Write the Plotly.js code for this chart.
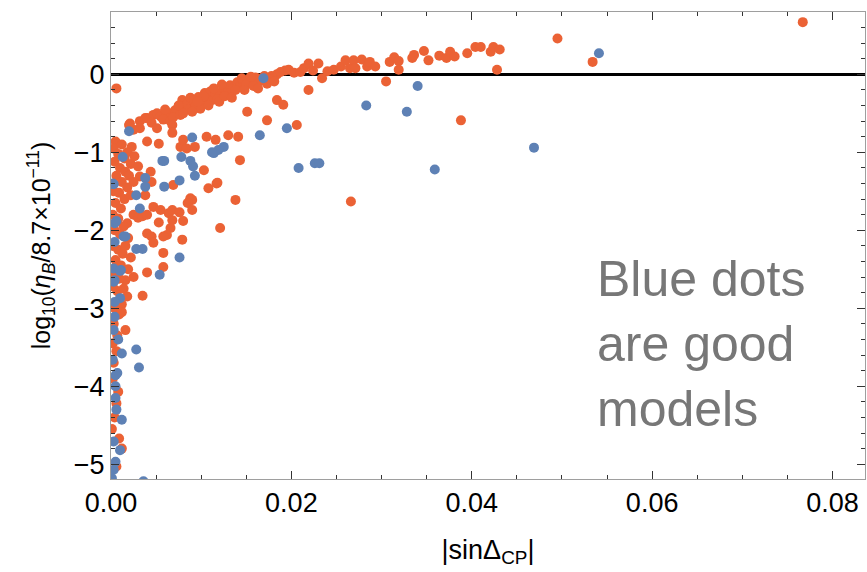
<!DOCTYPE html>
<html>
<head>
<meta charset="utf-8">
<script src="https://cdn.plot.ly/plotly-3.0.1.min.js"></script>
<style>
  html, body { margin: 0; padding: 0; background: #ffffff; }
  #chart { width: 867px; height: 572px; }
</style>
</head>
<body>
<div id="chart"></div>
<script>
// Scanned models: |sin Delta_CP| against log10(eta_B / 8.7e-11)

// All models (orange)
const otherSin = [
  0.0006, 0.0021, 0.0025, 0.0032, 0.0038, 0.0040, 0.0047, 0.0051, 0.0055, 0.0062,
  0.0064, 0.0071, 0.0073, 0.0079, 0.0082, 0.0085, 0.0088, 0.0092, 0.0097, 0.0101,
  0.0104, 0.0107, 0.0110, 0.0112, 0.0116, 0.0121, 0.0125, 0.0128, 0.0132, 0.0136,
  0.0140, 0.0143, 0.0147, 0.0152, 0.0156, 0.0160, 0.0162, 0.0166, 0.0173, 0.0178,
  0.0184, 0.0188, 0.0193, 0.0197, 0.0203, 0.0210, 0.0214, 0.0219, 0.0224, 0.0230,
  0.0234, 0.0240, 0.0247, 0.0255, 0.0260, 0.0265, 0.0269, 0.0271, 0.0278, 0.0284,
  0.0287, 0.0293, 0.0305, 0.0309, 0.0314, 0.0319, 0.0319, 0.0334, 0.0336, 0.0347,
  0.0352, 0.0364, 0.0372, 0.0376, 0.0381, 0.0395, 0.0404, 0.0410, 0.0421, 0.0424,
  0.0431, 0.0428, 0.0495, 0.0534, 0.0767, 0.0388, 0.0266,
  0.0045, 0.0058, 0.0066, 0.0069, 0.0075, 0.0077, 0.0086, 0.0094, 0.0099, 0.0103,
  0.0114, 0.0118, 0.0123, 0.0130, 0.0138, 0.0145, 0.0150, 0.0155, 0.0158, 0.0170,
  0.0176, 0.0181,
  0.0060, 0.0080, 0.0090, 0.0096, 0.0108, 0.0120, 0.0126, 0.0134, 0.0148, 0.0163,
  0.0032, 0.0051, 0.0068, 0.0068, 0.0077, 0.0084, 0.0093, 0.0106, 0.0116, 0.0130,
  0.0141, 0.0151, 0.0173, 0.0184, 0.0191, 0.0206, 0.0219, 0.0143, 0.0117, 0.0108,
  0.0103, 0.0118, 0.0069, 0.0044, 0.0032, 0.0023, 0.0020, 0.0005, 0.0088, 0.0138,
  0.0040, 0.0053, 0.0080, 0.0045, 0.0038, 0.0047, 0.0055, 0.0064, 0.0068, 0.0088,
  0.0090, 0.0085, 0.0090, 0.0076, 0.0080, 0.0068, 0.0053, 0.0066, 0.0062, 0.0058,
  0.0040, 0.0045, 0.0047, 0.0079, 0.0058, 0.0058, 0.0040, 0.0025, 0.0035, 0.0016,
  0.0016, 0.0121, 0.0025, 0.0030, 0.0035, 0.0040, 0.0018,
  0.0003, 0.0008, 0.0012, 0.0015, 0.0018, 0.0022, 0.0026, 0.0030, 0.0004, 0.0010,
  0.0016, 0.0020, 0.0025, 0.0006, 0.0012, 0.0018, 0.0003, 0.0009, 0.0015, 0.0022,
  0.0005, 0.0011, 0.0002, 0.0008, 0.0014, 0.0004, 0.0010, 0.0019, 0.0002, 0.0008,
  0.0013, 0.0005, 0.0011, 0.0003, 0.0009, 0.0002, 0.0007, 0.0012, 0.0004, 0.0009,
  0.0003, 0.0007, 0.0002, 0.0006, 0.0003, 0.0008, 0.0006, 0.0004, 0.0009, 0.0012,
  0.0006, 0.0002, 0.0001,
  0.0016, 0.0022, 0.0019, 0.0014, 0.0018, 0.0012
];
const otherEta = [
  -0.18, -0.63, -0.71, -0.60, -0.56, -0.56, -0.52, -0.50, -0.54, -0.52,
  -0.50, -0.46, -0.46, -0.33, -0.41, -0.38, -0.30, -0.33, -0.29, -0.37,
  -0.24, -0.30, -0.22, -0.33, -0.26, -0.24, -0.18, -0.22, -0.14, -0.17,
  -0.10, -0.16, -0.09, -0.07, -0.12, -0.04, -0.05, -0.08, -0.12, -0.02,
   0.00,  0.03,  0.05,  0.06,  0.02,  0.03,  0.08,  0.14,  0.05,  0.14,
  -0.05,  0.04,  0.06,  0.10,  0.18,  0.08,  0.18,  0.08,  0.19,  0.10,
   0.16,  0.10, -0.09,  0.16,  0.22,  0.17,  0.06,  0.21,  0.25,  0.30,
   0.18,  0.24,  0.21,  0.29,  0.23,  0.27,  0.35,  0.35,  0.29,  0.35,
   0.32,  0.06,  0.46,  0.16,  0.67, -0.59, -1.63,
  -0.62, -0.58, -0.60, -0.55, -0.40, -0.52, -0.45, -0.40, -0.44, -0.28,
  -0.18, -0.32, -0.13, -0.25, -0.20, -0.05, -0.13, -0.03, -0.15, -0.02,
  -0.06, -0.09,
  -0.45, -0.50, -0.48, -0.35, -0.40, -0.35, -0.28, -0.30, -0.20, -0.18,
  -0.69, -0.69, -0.65, -0.75, -0.93, -0.95, -0.93, -0.80, -0.84, -0.78,
  -0.80, -0.48, -0.59, -0.33, -0.39, -0.65, -0.20, -1.10, -1.40, -1.46,
  -1.23, -1.39, -1.42, -1.25, -1.31, -0.93, -0.65, -0.86, -1.59, -1.61,
  -0.86, -0.89, -0.84, -1.38, -1.55, -1.70, -1.74, -1.78, -1.74, -1.61,
  -1.61, -1.65, -1.74, -1.77, -1.88, -1.87, -1.90, -1.97, -2.06, -2.08,
  -2.04, -2.08, -2.16, -2.12, -2.29, -2.47, -2.54, -2.60, -2.84, -2.64,
  -3.28, -1.97, -1.80, -1.84, -1.82, -1.80, -1.91,
  -0.95, -1.02, -0.90, -1.08, -1.00, -1.15, -1.05, -1.18, -1.12, -1.20,
  -1.25, -1.30, -1.38, -1.30, -1.38, -1.45, -1.50, -1.52, -1.60, -1.55,
  -1.65, -1.72, -1.80, -1.85, -1.95, -2.00, -2.05, -2.10, -2.20, -2.25,
  -2.30, -2.38, -2.45, -2.55, -2.62, -2.72, -2.78, -2.95, -3.00, -3.08,
  -3.20, -3.35, -3.45, -3.55, -3.70, -4.07, -4.22, -4.40, -4.67, -4.80,
  -5.03, -3.90, -4.55,
  -2.20, -2.35, -2.50, -2.75, -2.85, -3.05
];

// Good models (blue)
const goodSin = [
  0.0169, 0.0020, 0.0090, 0.0195, 0.0165, 0.0125, 0.0119, 0.0114, 0.0013, 0.0057,
  0.0059, 0.0078, 0.0088, 0.0091, 0.0093, 0.0208, 0.0226, 0.0231, 0.0038, 0.0038,
  0.0059, 0.0076, 0.0002, 0.0028, 0.0032, 0.0004, 0.0006, 0.0014, 0.0016, 0.0004,
  0.0028, 0.0035, 0.0076, 0.0054, 0.0003, 0.0011, 0.0004, 0.0010, 0.0004, 0.0004,
  0.0003, 0.0008, 0.0012, 0.0028, 0.0031, 0.0007, 0.0002, 0.0005, 0.0005, 0.0005,
  0.0006, 0.0012, 0.0003, 0.0010, 0.0005, 0.0003, 0.0001, 0.0036, 0.0541, 0.0340,
  0.0283, 0.0328, 0.0469, 0.0359, 0.0003, 0.0010, 0.0112, 0.0003
];
const goodEta = [
  -0.05, -0.73, -0.81, -0.69, -0.78, -0.93, -0.97, -1.01, -1.06, -1.11,
  -1.11, -1.06, -1.11, -1.18, -1.30, -1.20, -1.14, -1.14, -1.33, -1.44,
  -1.44, -1.36, -1.40, -1.55, -1.72, -1.91, -1.88, -2.08, -2.08, -2.15,
  -2.24, -2.24, -2.35, -2.57, -2.49, -2.51, -2.64, -2.87, -2.92, -3.11,
  -3.28, -3.40, -3.58, -3.53, -3.76, -3.83, -3.66, -3.86, -4.00, -4.15,
  -4.30, -4.43, -4.71, -4.82, -4.97, -5.07, -5.18, -5.22,  0.27, -0.15,
  -0.40, -0.48, -0.94, -1.22, -2.66, -2.52, -1.00, -1.41
];

const ORANGE = '#EB6235';
const BLUE = '#5E81B5';
const FONT = 'Liberation Sans, Arial, Helvetica, sans-serif';

const traces = [
  {
    x: otherSin, y: otherEta, type: 'scatter', mode: 'markers',
    marker: { color: ORANGE, size: 10 }, hoverinfo: 'x+y', showlegend: false
  },
  {
    x: goodSin, y: goodEta, type: 'scatter', mode: 'markers',
    marker: { color: BLUE, size: 10 }, hoverinfo: 'x+y', showlegend: false
  }
];

const frame = {
  showline: true, linecolor: '#9e9e9e', linewidth: 1, mirror: 'ticks',
  ticks: 'inside', ticklen: 8, tickwidth: 1, tickcolor: '#333333',
  showgrid: false, tickfont: { family: FONT, size: 27, color: '#000000' }
};

const layout = {
  width: 867, height: 572,
  margin: { l: 111, r: 2, t: 12, b: 93 },
  paper_bgcolor: '#ffffff', plot_bgcolor: '#ffffff',
  font: { family: FONT, color: '#000000' },
  xaxis: Object.assign({}, frame, {
    range: [0, 0.0836], tick0: 0, dtick: 0.02, tickformat: '.2f',
    zeroline: false,
    minor: { dtick: 0.005, ticks: 'inside', ticklen: 4, tickcolor: '#333333', showgrid: false },
    title: { text: '|sinΔ<sub>CP</sub>|', font: { family: FONT, size: 27 }, standoff: 22 }
  }),
  yaxis: Object.assign({}, frame, {
    range: [-5.19, 0.8], tick0: 0, dtick: 1,
    zeroline: true, zerolinecolor: '#000000', zerolinewidth: 3,
    minor: { dtick: 0.2, ticks: 'inside', ticklen: 4, tickcolor: '#333333', showgrid: false },
    title: {
      text: 'log<sub>10</sub>(<i>η</i><sub><i>B</i></sub>/8.7×10<sup>−11</sup>)',
      font: { family: FONT, size: 25 }, standoff: 16
    }
  }),
  annotations: [{
    xref: 'paper', yref: 'paper', x: 0.642, y: 0.29,
    xanchor: 'left', yanchor: 'middle', align: 'left', showarrow: false,
    text: 'Blue dots<br>are good<br>models',
    font: { family: FONT, size: 50, color: '#777777' }
  }]
};

Plotly.newPlot('chart', traces, layout, { displayModeBar: false, staticPlot: true });
</script>
</body>
</html>
